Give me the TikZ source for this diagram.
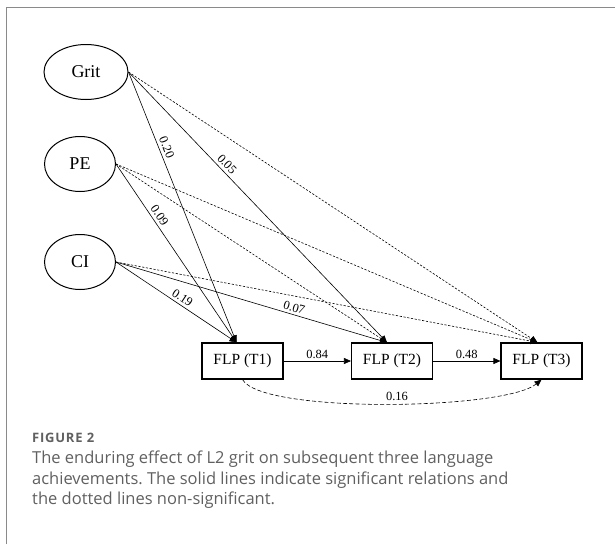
\documentclass[tikz,border=0pt]{standalone}
\usepackage{fontspec}
\setmainfont{Liberation Serif}
\newfontfamily\capfont{Open Sans}
\newfontfamily\figfont[LetterSpace=6]{Open Sans}
\usetikzlibrary{shapes.geometric,arrows.meta}
\definecolor{capgray}{HTML}{606060}
\definecolor{framegray}{HTML}{8A8A8A}
\frenchspacing
\tikzset{
  latent/.style={ellipse,draw,line width=1pt,inner sep=0pt,font=\fontsize{18}{18}\selectfont},
  obsbox/.style={rectangle,draw,line width=1.1pt,minimum width=81pt,minimum height=36pt,inner sep=0pt,font=\fontsize{15.5}{15.5}\selectfont},
  sig/.style={line width=0.6pt,-{Triangle[length=7pt,width=6pt]}},
  nsig/.style={line width=0.6pt,dash pattern=on 2.2pt off 1.6pt,-{Triangle[length=7pt,width=6pt]}},
  coef/.style={font=\fontsize{12.5}{12.5}\selectfont,inner sep=1pt},
}
\begin{document}
\begin{tikzpicture}[x=1pt,y=-1pt]
\useasboundingbox (0,0) rectangle (615,544);
% frame
\draw[framegray,line width=0.9pt] (6.5,544) -- (6.5,7) -- (615,7);
% nodes
\node[latent,minimum width=84pt,minimum height=55pt] (grit) at (86,72) {Grit};
\node[latent,minimum width=71pt,minimum height=55pt] (pe) at (80,164) {PE};
\node[latent,minimum width=71pt,minimum height=55pt] (ci) at (80,262) {CI};
\node[obsbox] (t1) at (242.5,361) {FLP (T1)};
\node[obsbox] (t2) at (392,361) {FLP (T2)};
\node[obsbox] (t3) at (541.5,361) {FLP (T3)};
\coordinate (t1in) at ([xshift=-6pt]t1.north);
\coordinate (t2in) at ([xshift=-5pt]t2.north);
\coordinate (t3in) at ([xshift=-4pt]t3.north);
% paths from latent factors
\draw[sig] (grit.east) -- node[coef,sloped,above=2pt,pos=0.29] {0.20} (t1in);
\draw[sig] (grit.east) -- node[coef,sloped,above=2pt,pos=0.36] {0.05} (t2in);
\draw[nsig] (grit.east) -- (t3in);
\draw[sig] (pe.east) -- node[coef,sloped,above=2pt,pos=0.31] {0.09} (t1in);
\draw[nsig] (pe.east) -- (t2in);
\draw[nsig] (pe.east) -- (t3in);
\draw[sig] (ci.east) -- node[coef,sloped,above=1.5pt,pos=0.52] {0.19} (t1in);
\draw[sig] (ci.east) -- node[coef,sloped,above=1.5pt,pos=0.65] {0.07} (t2in);
\draw[nsig] (ci.east) -- (t3in);
% autoregressive paths
\draw[sig] (t1.east) -- node[coef,above=1pt] {0.84} (t2.west);
\draw[sig] (t2.east) -- node[coef,above=1pt] {0.48} (t3.west);
\draw[line width=0.6pt,dash pattern=on 4pt off 2.2pt,-{Triangle[length=7pt,width=6pt]}]
  (t1.south) .. controls (262,414) and (505,410) .. (t3.south);
\node[coef] (c16) at (397,396) {0.16};
% caption
\node[anchor=west,inner sep=0pt,text=capgray,font=\figfont\bfseries\fontsize{13}{13}\selectfont] (figlab) at (32,438) {FIGURE 2};
\node[anchor=north west,inner sep=0pt,text=capgray,align=left,font=\capfont\fontsize{16.5}{20.5}\selectfont] (cap) at (32,451)
  {The enduring effect of L2 grit on subsequent three language\\achievements. The solid lines indicate significant relations and\\the dotted lines non-significant.};
\end{tikzpicture}
\end{document}
